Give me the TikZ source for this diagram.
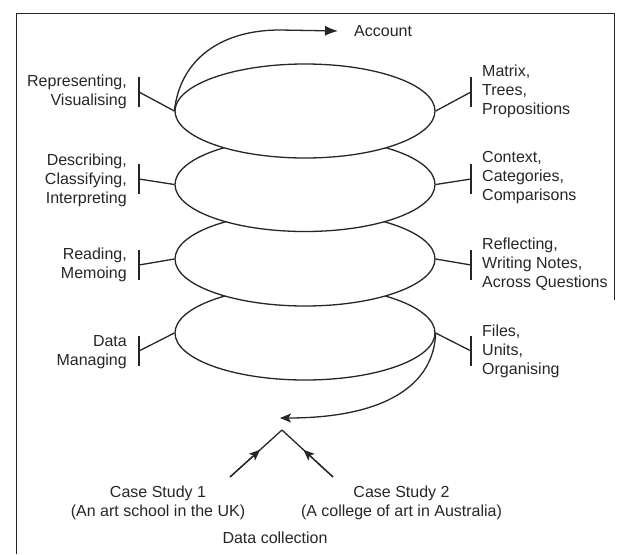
\documentclass[tikz,border=0pt]{standalone}
\usepackage{fontspec}
\setmainfont{Liberation Sans}
\usetikzlibrary{shapes.geometric,arrows.meta,calc}
\begin{document}
\begin{tikzpicture}[x=1pt,y=-1pt,line join=round,
  ink/.style={draw=black!85,line width=1.3pt},
  head/.style={-{Stealth[length=11pt,width=9pt,inset=2.5pt]}},
  layer/.style={ellipse,ink,fill=white,minimum width=260pt,minimum height=94pt,inner sep=0pt},
  lbl/.style={text=black!85,font=\fontsize{16}{19}\selectfont,inner sep=0pt},
  lft/.style={lbl,align=right,anchor=east},
  rgt/.style={lbl,align=left,anchor=west}]
\useasboundingbox (0,0) rectangle (620,554);

% frame
\draw[black!85,line width=0.9pt] (16,554) -- (16,13) -- (614,13) -- (614,300);

% stacked layers, lowest first so each upper one covers the one below
\node[layer] (e4) at (305,333) {};
\node[layer] (e3) at (305,259) {};
\node[layer] (e2) at (305,184.5) {};
\node[layer] (e1) at (305,111) {};

% tick bars on both sides
\foreach \i/\y in {1/92,2/179,3/265,4/351}{
  \coordinate (bl\i) at (139,\y);
  \coordinate (br\i) at (471,\y);
}
\foreach \i in {1,...,4}{
  \draw[ink] ($(bl\i)+(0,-15)$) -- ($(bl\i)+(0,15)$);
  \draw[ink] ($(br\i)+(0,-15)$) -- ($(br\i)+(0,15)$);
  \draw[ink] (bl\i) -- (e\i.west);
  \draw[ink] (br\i) -- (e\i.east);
}

% left labels
\node[lft] (l1) at (127,92) {Representing,\\Visualising};
\node[lft] (l2) at (127,180) {Describing,\\Classifying,\\Interpreting};
\node[lft] (l3) at (127,265) {Reading,\\Memoing};
\node[lft] (l4) at (127,352) {Data\\Managing};

% right labels
\node[rgt] (r1) at (482,91) {Matrix,\\Trees,\\Propositions};
\node[rgt] (r2) at (482,178) {Context,\\Categories,\\Comparisons};
\node[rgt] (r3) at (482,264) {Reflecting,\\Writing Notes,\\Across Questions};
\node[rgt] (r4) at (482,351) {Files,\\Units,\\Organising};

% output arrow
\node[lbl,anchor=west] (acc) at (354,31) {Account};
\draw[ink,-{Latex[length=13pt,width=10pt]}] (e1.west)
  .. controls (180,60) and (220,30) .. (280,30) -- ([xshift=-16pt]acc.west);

% return arrow from the data layer
\coordinate (ret) at (280,418);
\draw[ink,head] (e4.east)
  .. controls (434,385) and (385,418) .. (ret);

% data collection from both case studies
\coordinate (apex) at (282,430);
\coordinate (c1) at (230,477);
\coordinate (c2) at (333,477);
\draw[ink] (c1) -- (apex) -- (c2);
\draw[ink,head] (c1) -- ($(c1)!0.58!(apex)$);
\draw[ink,head] (c2) -- ($(c2)!0.58!(apex)$);

\node[lbl,align=center] (cs1) at (158,502.5) {Case Study 1\\(An art school in the UK)};
\node[lbl,align=center] (cs2) at (401.5,502.5) {Case Study 2\\(A college of art in Australia)};
\node[lbl] (dc) at (275,538) {Data collection};
\end{tikzpicture}
\end{document}
